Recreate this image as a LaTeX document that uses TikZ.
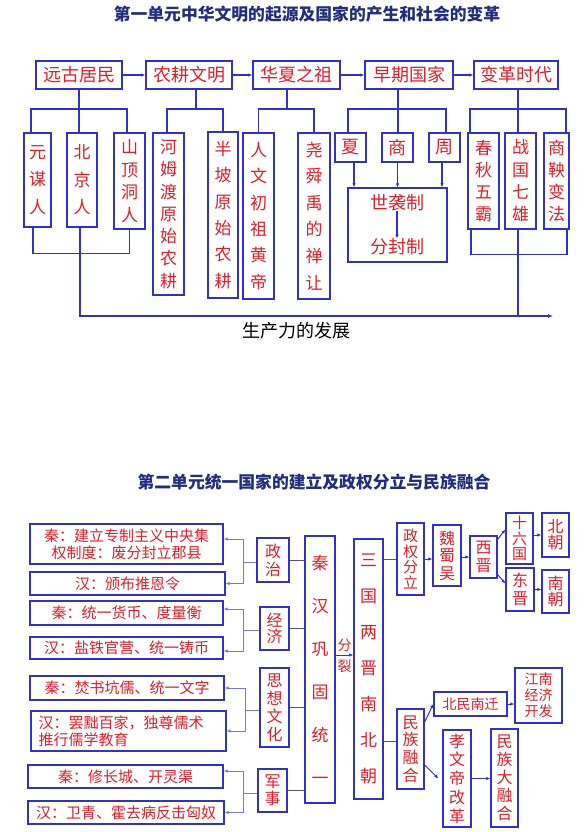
\documentclass[tikz,border=0pt]{standalone}
\usepackage{fontspec}
\setmainfont{Noto Sans CJK SC}
\usetikzlibrary{arrows.meta}
\definecolor{bblue}{RGB}{50,50,200}
\definecolor{tred}{RGB}{225,30,40}
\definecolor{tnavy}{RGB}{35,45,125}
\definecolor{lblue}{RGB}{120,120,220}
\definecolor{dgray}{RGB}{85,85,125}
\newcommand\fs[2]{\fontsize{#1}{#2}\selectfont}
\newcommand\mybox[7][]{\node[bx,minimum width={#5-#3},minimum height={#6-#4},#1] (#2) at ({(#3+#5)/2},{(#4+#6)/2}) {#7};}
\tikzset{
  bx/.style={draw=bblue,line width=1.4pt,text=tred,inner sep=0pt,align=center},
  ln/.style={draw=bblue,line width=1.4pt},
  arr/.style={draw=bblue,line width=1.4pt,-{Latex[length=4pt,width=3.5pt]}},
  lc/.style={draw=lblue,line width=1pt},
  lca/.style={draw=lblue,line width=1pt,-{Latex[length=4pt,width=3.5pt]}},
  gl/.style={draw=dgray,line width=0.9pt},
  ba/.style={draw=bblue,line width=1pt,-{Latex[length=4pt,width=3.5pt]}},
  ttl/.style={text=tnavy,font=\fs{16.8}{18}\bfseries,inner sep=0pt},
  lbl/.style={text=tred,inner sep=0pt}
}
\begin{document}
\begin{tikzpicture}[x=1pt,y=-1pt]
\fill[white] (0,0) rectangle (585,832);
\useasboundingbox (0,0) rectangle (585,832);

% ---------- Unit 1 ----------
\node[ttl] (title1) at (307,14) {第一单元中华文明的起源及国家的产生和社会的变革};

\mybox[font=\fs{18}{20}]{t1}{36}{61}{122}{89}{远古居民}
\mybox[font=\fs{18}{20}]{t2}{146}{61}{232}{89}{农耕文明}
\mybox[font=\fs{18}{20}]{t3}{253}{61}{340}{89}{华夏之祖}
\mybox[font=\fs{18}{20}]{t4}{365}{61}{453}{89}{早期国家}
\mybox[font=\fs{18}{20}]{t5}{474}{61}{558}{89}{变革时代}
\draw[arr] (t1) -- (t2);
\draw[arr] (t2) -- (t3);
\draw[arr] (t3) -- (t4);
\draw[arr] (t4) -- (t5);

% group 1
\mybox[font=\fs{17}{27.5}]{ym}{24}{133}{51}{227}{元\\谋\\人}
\mybox[font=\fs{17}{27.5}]{bj}{67}{133}{97}{227}{北\\京\\人}
\mybox[font=\fs{17}{22.5}]{sd}{114}{133}{145}{229}{山\\顶\\洞\\人}
\coordinate (s1) at (79,109);
\draw[ln] (t1.south -| s1) -- (bj.north -| s1);
\draw[ln] ([xshift=-6.5pt]ym.north) |- (s1) -| ([xshift=-2.5pt]sd.north);
\draw[ln] ([xshift=-4.5pt]ym.south) -- ++(0,26) -| (sd.south);
\coordinate (pend) at (553,316);
\draw[ln,-{Latex[length=5pt,width=4pt]}] ([xshift=-2pt]bj.south) |- (pend);

% group 2
\mybox[font=\fs{17}{22.3}]{hm}{153}{133}{184}{295}{河\\姆\\渡\\原\\始\\农\\耕}
\mybox[font=\fs{17}{26.3}]{bp}{208}{132}{238}{298}{半\\坡\\原\\始\\农\\耕}
\coordinate (s2) at (196,109);
\draw[ln] (t2.south -| s2) -- (s2);
\draw[ln] ([xshift=-1.5pt]hm.north) |- (s2) -| (bp.north);

% group 3
\mybox[font=\fs{17}{26.3}]{rw}{243}{133}{274}{299}{人\\文\\初\\祖\\黄\\帝}
\mybox[font=\fs{17}{26.6}]{ys}{298}{133}{330}{299}{尧\\舜\\禹\\的\\禅\\让}
\coordinate (s3) at (287,109);
\draw[ln] (t3.south -| s3) -- (s3);
\draw[ln] (rw.north) |- (s3) -| (ys.north);

% group 4
\mybox[font=\fs{18}{20}]{xia}{335}{133}{366}{162}{夏}
\mybox[font=\fs{18}{20}]{shang}{382}{133}{413}{162}{商}
\mybox[font=\fs{18}{20}]{zhou}{429}{133}{460}{162}{周}
\coordinate (s4) at (398,109);
\draw[ln] (t4.south -| s4) -- (shang.north -| s4);
\draw[ln] ([xshift=-2.5pt]xia.north) |- (s4) -| ([xshift=1.5pt]zhou.north);
\mybox{sf}{348}{188}{447}{262}{}
\node[lbl,font=\fs{18}{20}] (sx) at (397,203) {世袭制};
\node[lbl,font=\fs{18}{20}] (ff) at (397,247) {分封制};
\draw[arr] ([xshift=3.5pt]xia.south) -- ([xshift=3.5pt]xia.south |- sf.north);
\draw[arr] (shang.south) -- (shang.south |- sf.north);
\draw[arr] ([xshift=-2.5pt]zhou.south) -- ([xshift=-2.5pt]zhou.south |- sf.north);
\draw[arr] (sx) -- (ff);

% group 5
\mybox[font=\fs{17}{22.3}]{cq}{468}{133}{499}{229}{春\\秋\\五\\霸}
\mybox[font=\fs{17}{22.3}]{zg}{505}{133}{536}{229}{战\\国\\七\\雄}
\mybox[font=\fs{17}{22.3}]{sy}{544}{133}{569}{229}{商\\鞅\\变\\法}
\coordinate (s5) at (518,109);
\draw[ln] (t5.south -| s5) -- (zg.north -| s5);
\draw[ln] ([xshift=-13.5pt]cq.north) |- (s5) -| ([xshift=9.5pt]sy.north);
\draw[ln] ([xshift=-12.5pt]cq.south) -- ++(0,25) -| ([xshift=10.5pt]sy.south);
\draw[ln] (zg.south -| s5) -- (s5 |- pend);

\node[font=\fs{18}{20},inner sep=0pt] (scl) at (296,331) {生产力的发展};

% ---------- Unit 2 ----------
\node[ttl] (title2) at (314,482) {第二单元统一国家的建立及政权分立与民族融合};

\mybox[font=\fs{15}{17}]{q1}{30}{524}{223}{564}{秦：建立专制主义中央集\\权制度：废分封立郡县}
\mybox[font=\fs{15}{17}]{h1}{30}{572}{225}{595}{汉：颁布推恩令}
\mybox[font=\fs{15}{17}]{q2}{30}{601}{223}{625}{秦：统一货币、度量衡}
\mybox[font=\fs{15}{17}]{h2}{30}{637}{223}{659}{汉：盐铁官营、统一铸币}
\mybox[font=\fs{15}{17}]{q3}{30}{676}{224}{700}{秦：焚书坑儒、统一文字}
\mybox[font=\fs{15}{17},text width=180pt,align=left]{h3}{31}{711}{226}{751}{汉：罢黜百家，独尊儒术\\推行儒学教育}
\mybox[font=\fs{15}{17}]{q4}{28}{765}{223}{788}{秦：修长城、开灵渠}
\mybox[font=\fs{15}{17}]{h4}{28}{801}{224}{824}{汉：卫青、霍去病反击匈奴}

\mybox[font=\fs{16}{18}]{zz}{257}{538}{289}{582}{政\\治}
\mybox[font=\fs{16}{16.5}]{jj}{260}{607}{289}{650}{经\\济}
\mybox[font=\fs{16}{18}]{sx2}{260}{668}{289}{747}{思\\想\\文\\化}
\mybox[font=\fs{16}{17}]{js}{258}{769}{287}{812}{军\\事}

\mybox[font=\fs{17}{43}]{qh}{305}{536}{335}{803}{秦\\汉\\巩\\固\\统\\一}
\mybox[font=\fs{17}{36}]{sg}{354}{539}{383}{799}{三\\国\\两\\晋\\南\\北\\朝}
\mybox[font=\fs{15}{15.7}]{zq}{397}{523}{424}{595}{政\\权\\分\\立}
\mybox[font=\fs{16}{17.5}]{wsw}{433}{525}{461}{586}{魏\\蜀\\吴}
\mybox[font=\fs{16}{18}]{xj}{470}{536}{497}{578}{西\\晋}
\mybox[font=\fs{15}{15.5}]{slg}{506}{513}{533}{564}{十\\六\\国}
\mybox[font=\fs{16}{18}]{dj}{506}{568}{534}{611}{东\\晋}
\mybox[font=\fs{16}{16}]{bc}{542}{513}{569}{557}{北\\朝}
\mybox[font=\fs{16}{16}]{nc}{542}{570}{569}{613}{南\\朝}
\mybox[font=\fs{16}{17.7}]{mzrh}{397}{709}{424}{789}{民\\族\\融\\合}
\mybox[font=\fs{14}{16}]{bmnq}{434}{692}{507}{716}{北民南迁}
\mybox[font=\fs{14}{16}]{jn}{515}{668}{562}{723}{江南\\经济\\开发}
\mybox[font=\fs{16}{18.75}]{xwd}{443}{730}{471}{827}{孝\\文\\帝\\改\\革}
\mybox[font=\fs{16}{18}]{mzd}{491}{729}{518}{827}{民\\族\\大\\融\\合}

% brackets to left boxes
\coordinate (v1) at (243,562);
\draw[lc] (zz.west |- v1) -- (v1);
\draw[lca] (v1) |- ([yshift=5pt]q1.east);
\draw[lca] (v1) |- (h1.east);
\coordinate (v2) at (243,630);
\draw[lc] (jj.west |- v2) -- (v2);
\draw[lca] (v2) |- ([yshift=4pt]q2.east);
\draw[lca] (v2) |- ([yshift=-3pt]h2.east);
\coordinate (v3) at (245,710);
\draw[lc] (sx2.west |- v3) -- (v3);
\draw[lca] (v3) |- (q3.east);
\draw[lca] (v3) |- (h3.east);
\coordinate (v4) at (243,793);
\draw[lc] (js.west |- v4) -- (v4);
\draw[lca] (v4) |- ([yshift=5.5pt]q4.east);
\draw[lca] (v4) |- (h4.east);

% categories to Qin-Han
\draw[gl] (zz.east) -- (zz.east -| qh.west);
\draw[gl] (jj.east) -- (jj.east -| qh.west);
\draw[gl] (sx2.east) -- (sx2.east -| qh.west);
\draw[gl] (js.east) -- (js.east -| qh.west);

% split
\coordinate (fl) at (335,655);
\draw[ba] (qh.east |- fl) -- (sg.west |- fl);
\node[lbl,font=\fs{14}{16}] (fen) at (344.5,645) {分};
\node[lbl,font=\fs{14}{16}] (lie) at (344.5,666) {裂};

% right part
\draw[gl] (sg.east |- zq.west) -- (zq.west);
\draw[ba] (zq.east) -- (zq.east -| wsw.west);
\draw[ba] (wsw.east |- xj.west) -- (xj.west);
\draw[ba] ([yshift=-4pt]xj.north east) -- ([yshift=9pt]slg.west);
\draw[ba] ([yshift=4pt]xj.south east) -- ([yshift=6pt]dj.west);
\draw[ba] (slg.east |- bc.west) -- (bc.west);
\draw[ba] (dj.east) -- (dj.east -| nc.west);
\draw[gl] ([yshift=8pt]mzrh.west) -- ([yshift=8pt]mzrh.west -| sg.east);
\draw[ba] ([yshift=27pt]mzrh.east) -- (bmnq.west);
\draw[ba] ([yshift=-16pt]mzrh.east) -- ([xshift=-4pt]xwd.west);
\draw[ba] (bmnq.east) -- (bmnq.east -| jn.west);
\draw[ba] (xwd.east) -- (xwd.east -| mzd.west);
\end{tikzpicture}
\end{document}
